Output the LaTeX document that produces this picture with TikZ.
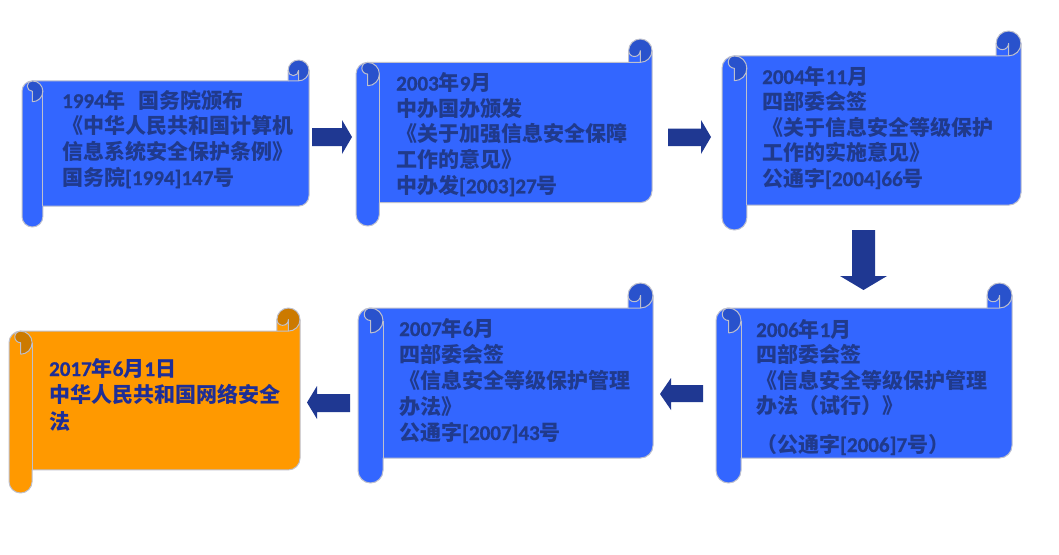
\documentclass[tikz,border=0pt]{standalone}
\usepackage{fontspec}
\newfontfamily\cjk{Noto Sans CJK SC}
\newfontfamily\lat{Carlito}[FakeBold=0.8]
\definecolor{scrollblue}{RGB}{51,102,255}
\definecolor{scrollbluedark}{RGB}{41,82,204}
\definecolor{scrollorange}{RGB}{255,153,0}
\definecolor{scrollorangedark}{RGB}{204,122,0}
\definecolor{edgegray}{RGB}{190,192,205}
\definecolor{txtblue}{RGB}{32,58,140}
\definecolor{txtnavy}{RGB}{30,46,150}
\definecolor{arrowblue}{RGB}{31,56,146}
\newcommand\dg[1]{{\lat\bfseries\fontsize{21}{25}\selectfont #1}}
\newcommand\drawscroll[6]{%
 \pgfmathsetmacro\sL{#1}\pgfmathsetmacro\sT{#2}\pgfmathsetmacro\sR{#3}\pgfmathsetmacro\sB{#4}%
 \pgfmathsetmacro\rch{0.125*(\sB-\sT)}%
 \pgfmathsetmacro\rchh{\rch/2}\pgfmathsetmacro\rchq{\rch/4}%
 \pgfmathsetmacro\yA{\sT+\rchh}\pgfmathsetmacro\yB{\sT+\rch}%
 \pgfmathsetmacro\yC{\sT+\rch+\rchh}\pgfmathsetmacro\yD{\sT+2*\rch}%
 \pgfmathsetmacro\yF{\sB-\rch}\pgfmathsetmacro\yG{\sB-\rchh}\pgfmathsetmacro\yE{\sB-\rch-\rchh}%
 \pgfmathsetmacro\xA{\sL+\rchh}\pgfmathsetmacro\xB{\sL+\rch}%
 \pgfmathsetmacro\xC{\sR-\rch}\pgfmathsetmacro\xD{\sR-\rchh}%
 \fill[#5] (\sR,\yA) arc[start angle=0,end angle=90,radius=\rchh] -- (\xD,\yA)
   arc[start angle=0,end angle=180,radius=\rchq] -- (\xC,\yB) -- (\xA,\yB)
   arc[start angle=270,end angle=180,radius=\rchh] -- (\sL,\yG)
   arc[start angle=180,end angle=0,radius=\rchh] -- (\xB,\yF) -- (\xD,\yF)
   arc[start angle=90,end angle=0,radius=\rchh] -- cycle;
 \fill[#6] (\xA,\yD) arc[start angle=90,end angle=-90,radius=\rchh]
   arc[start angle=270,end angle=90,radius=\rchq] -- cycle;
 \fill[#6] (\xD,\yB) arc[start angle=90,end angle=-180,radius=\rchh]
   arc[start angle=180,end angle=0,radius=\rchq] -- cycle;
 \draw[scrolledge] (\sL,\yC) arc[start angle=180,end angle=270,radius=\rchh] -- (\xC,\yB) -- (\xC,\yA)
   arc[start angle=180,end angle=360,radius=\rchh] -- (\sR,\yE)
   arc[start angle=0,end angle=90,radius=\rchh] -- (\xB,\yF) -- (\xB,\yG)
   arc[start angle=0,end angle=180,radius=\rchh] -- cycle;
 \draw[scrolledge] (\xC,\yB) -- (\xD,\yB) arc[start angle=90,end angle=0,radius=\rchh];
 \draw[scrolledge] (\xD,\yB) -- (\xD,\yA) arc[start angle=0,end angle=180,radius=\rchq];
 \draw[scrolledge] (\xA,\yD) -- (\xA,\yC) arc[start angle=90,end angle=270,radius=\rchq]
   arc[start angle=270,end angle=450,radius=\rchh];
 \draw[scrolledge] (\xB,\yC) -- (\xB,\yF);
}
\begin{document}
\begin{tikzpicture}[x=1pt,y=-1pt,
  scrolledge/.style={draw=edgegray,line width=1pt,line join=round},
  bluemain/.style={fill=scrollblue},
  bluedark/.style={fill=scrollbluedark},
  orangemain/.style={fill=scrollorange},
  orangedark/.style={fill=scrollorangedark},
  scrolltext/.style={anchor=base west,inner sep=0pt,text=txtblue,
    font=\cjk\bfseries\fontsize{21}{25}\selectfont},
  blockarrow/.style={fill=arrowblue}]
\path[use as bounding box] (0,0) rectangle (1059,554);
\fill[white] (0,0) rectangle (1059,554);
% scrolls
\drawscroll{22}{60}{309}{227}{bluemain}{bluedark}
\drawscroll{356}{39}{652}{226}{bluemain}{bluedark}
\drawscroll{722}{31}{1021}{230}{bluemain}{bluedark}
\drawscroll{9}{308}{300}{493}{orangemain}{orangedark}
\drawscroll{358}{283}{653}{483}{bluemain}{bluedark}
\drawscroll{716}{283}{1012}{483}{bluemain}{bluedark}
% scroll 1 text
\node[scrolltext] (a1) at (62,108) {\dg{1994}年\hspace{13pt}国务院颁布};
\node[scrolltext] (a2) at (62,133.7) {《中华人民共和国计算机};
\node[scrolltext] (a3) at (62,159.4) {信息系统安全保护条例》};
\node[scrolltext] (a4) at (62,185.1) {国务院\dg{[1994]147}号};
% scroll 2 text
\node[scrolltext] (b1) at (396,90.5) {\dg{2003}年\dg{9}月};
\node[scrolltext] (b2) at (396,116.2) {中办国办颁发};
\node[scrolltext] (b3) at (396,141.9) {《关于加强信息安全保障};
\node[scrolltext] (b4) at (396,167.6) {工作的意见》};
\node[scrolltext] (b5) at (396,193.3) {中办发\dg{[2003]27}号};
% scroll 3 text
\node[scrolltext] (c1) at (762,84) {\dg{2004}年\dg{11}月};
\node[scrolltext] (c2) at (762,109.5) {四部委会签};
\node[scrolltext] (c3) at (762,135) {《关于信息安全等级保护};
\node[scrolltext] (c4) at (762,160.5) {工作的实施意见》};
\node[scrolltext] (c5) at (762,186) {公通字\dg{[2004]66}号};
% scroll 4 text (orange)
\node[scrolltext,text=txtnavy] (d1) at (49,376) {\dg{2017}年\dg{6}月\dg{1}日};
\node[scrolltext,text=txtnavy] (d2) at (49,402.5) {中华人民共和国网络安全};
\node[scrolltext,text=txtnavy] (d3) at (49,429) {法};
% scroll 5 text
\node[scrolltext] (e1) at (399,336) {\dg{2007}年\dg{6}月};
\node[scrolltext] (e2) at (399,362) {四部委会签};
\node[scrolltext] (e3) at (399,388) {《信息安全等级保护管理};
\node[scrolltext] (e4) at (399,414) {办法》};
\node[scrolltext] (e5) at (399,440) {公通字\dg{[2007]43}号};
% scroll 6 text
\node[scrolltext] (f1) at (756,337) {\dg{2006}年\dg{1}月};
\node[scrolltext] (f2) at (756,362.5) {四部委会签};
\node[scrolltext] (f3) at (756,388) {《信息安全等级保护管理};
\node[scrolltext] (f4) at (756,413.5) {办法（试行）》};
\node[scrolltext] (f5) at (756,452) {（公通字\dg{[2006]7}号）};
% block arrows
\fill[blockarrow] (312,128) -- (342,128) -- (342,120) -- (352,137) -- (342,154) -- (342,146) -- (312,146) -- cycle;
\fill[blockarrow] (668,128.5) -- (701,128.5) -- (701,120) -- (711,137) -- (701,154) -- (701,146) -- (668,146) -- cycle;
\fill[blockarrow] (852,230) -- (875,230) -- (875,276) -- (887,276) -- (863.5,290) -- (840,276) -- (852,276) -- cycle;
\fill[blockarrow] (703,385) -- (671,385) -- (671,378) -- (660,394) -- (671,410) -- (671,402) -- (703,402) -- cycle;
\fill[blockarrow] (350,394) -- (317,394) -- (317,386) -- (307,402.5) -- (317,419) -- (317,412) -- (350,412) -- cycle;
\end{tikzpicture}
\end{document}
